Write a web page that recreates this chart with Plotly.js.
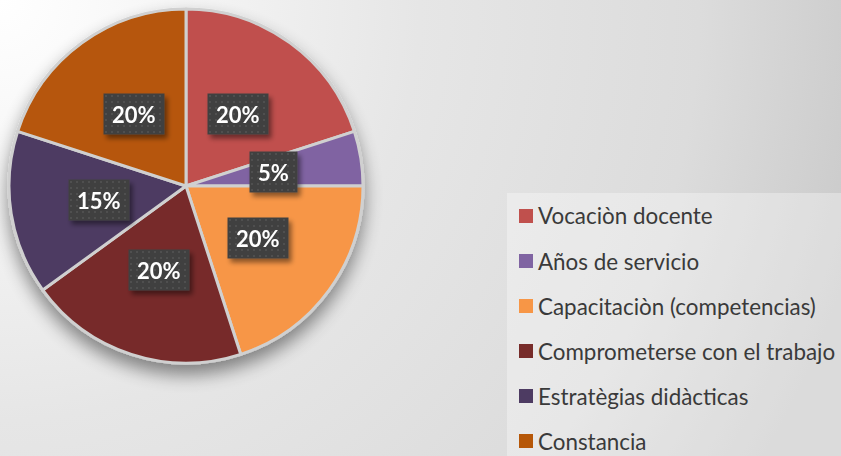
<!DOCTYPE html>
<html>
<head>
<meta charset="utf-8">
<script src="https://cdn.plot.ly/plotly-3.0.1.min.js"></script>
<style>
  html, body { margin: 0; padding: 0; }
  #chart {
    width: 841px; height: 456px;
    background: radial-gradient(circle at 0% 0%, #ffffff 0px, #f7f7f7 150px, #e6e6e6 420px, #dcdcdc 700px, #c9c9c9 900px);
  }
</style>
</head>
<body>
<div id="chart"></div>
<script>
// ---- data ----
const labels = ["Vocaciòn docente", "Años de servicio", "Capacitaciòn (competencias)",
                "Comprometerse con el trabajo", "Estratègias didàcticas", "Constancia"];
const values = [20, 5, 20, 20, 15, 20];
const percentText = ["20%", "5%", "20%", "20%", "15%", "20%"];
const colors = ["#C0504D", "#8064A2", "#F79646", "#772C2A", "#4D3B62", "#B65708"];

// ---- layout geometry ----
const W = 841, H = 456;
const cx = 186, cy = 186, R = 177;

const annotations = [];
const shapes = [];

// data labels placed at slice mid-angles (computed from values)
const total = values.reduce((a, b) => a + b, 0);
let cum = 0;
values.forEach((v, i) => {
  const mid = (cum + v / 2) / total * 2 * Math.PI;
  cum += v;
  const px = cx + 0.5 * R * Math.sin(mid);
  const py = cy - 0.5 * R * Math.cos(mid);
  annotations.push({
    xref: "paper", yref: "paper",
    x: px / W, y: 1 - py / H,
    xanchor: "center", yanchor: "middle",
    text: "<b>" + percentText[i] + "</b>",
    showarrow: false,
    font: { family: "Lato, 'Open Sans', sans-serif", size: 22, color: "#ffffff" },
    bgcolor: "#404040",
    borderpad: 8,
    height: 24
  });
});

// legend panel
shapes.push({
  type: "rect", xref: "paper", yref: "paper",
  x0: 507 / W, x1: 1, y0: 0, y1: 1 - 193 / H,
  fillcolor: "rgba(255,255,255,0.33)", line: { width: 0 }, layer: "below"
});
labels.forEach((lab, i) => {
  const yc = 216 + i * 45;
  shapes.push({
    type: "rect", xref: "paper", yref: "paper",
    x0: 519 / W, x1: 533 / W, y0: 1 - (yc + 7) / H, y1: 1 - (yc - 7) / H,
    fillcolor: colors[i], line: { width: 0 }
  });
  annotations.push({
    xref: "paper", yref: "paper",
    x: 536 / W, y: 1 - yc / H,
    xanchor: "left", yanchor: "middle",
    text: lab, showarrow: false,
    font: { family: "Lato, sans-serif", size: 22.4, color: "#3a3a3a" }
  });
});

const trace = {
  type: "pie",
  labels: labels,
  values: values,
  sort: false,
  direction: "clockwise",
  rotation: 0,
  textinfo: "none",
  hoverinfo: "label+percent",
  marker: { colors: colors, line: { color: "#D0D0D0", width: 3 } },
  domain: { x: [(cx - R) / W, (cx + R) / W], y: [1 - (cy + R) / H, 1 - (cy - R) / H] },
  showlegend: false
};

const layout = {
  width: W, height: H,
  margin: { l: 0, r: 0, t: 0, b: 0 },
  paper_bgcolor: "rgba(0,0,0,0)",
  plot_bgcolor: "rgba(0,0,0,0)",
  showlegend: false,
  annotations: annotations,
  shapes: shapes
};

Plotly.newPlot("chart", [trace], layout, { displayModeBar: false, staticPlot: true }).then(gd => {
  const NS = "http://www.w3.org/2000/svg";
  const svg = gd.querySelector("svg.main-svg");
  let defs = svg.querySelector("defs");
  if (!defs) { defs = document.createElementNS(NS, "defs"); svg.insertBefore(defs, svg.firstChild); }
  defs.insertAdjacentHTML("beforeend",
    '<filter id="pieShadow" filterUnits="userSpaceOnUse" x="-60" y="-60" width="560" height="520">' +
      '<feGaussianBlur in="SourceAlpha" stdDeviation="9"/>' +
      '<feOffset dx="0" dy="10" result="b"/>' +
      '<feComponentTransfer><feFuncA type="linear" slope="0.45"/></feComponentTransfer>' +
      '<feMerge><feMergeNode/><feMergeNode in="SourceGraphic"/></feMerge>' +
    '</filter>' +
    '<filter id="boxShadow" x="-30%" y="-30%" width="170%" height="180%">' +
      '<feGaussianBlur in="SourceAlpha" stdDeviation="2.5"/>' +
      '<feOffset dx="3" dy="4" result="b"/>' +
      '<feComponentTransfer><feFuncA type="linear" slope="0.45"/></feComponentTransfer>' +
      '<feMerge><feMergeNode/><feMergeNode in="SourceGraphic"/></feMerge>' +
    '</filter>' +
    '<pattern id="dots" patternUnits="userSpaceOnUse" width="6" height="6">' +
      '<rect width="6" height="6" fill="#404040"/>' +
      '<rect x="2" y="2" width="2" height="2" fill="#4f4f4f"/>' +
    '</pattern>');
  svg.querySelectorAll(".pielayer").forEach(pl => pl.setAttribute("filter", "url(#pieShadow)"));
  const anns = gd.querySelectorAll(".annotation");
  anns.forEach((a, i) => {
    if (i < values.length) {
      const r = a.querySelector("rect.bg");
      if (r) { r.style.fill = "url(#dots)"; }
      a.setAttribute("filter", "url(#boxShadow)");
    }
  });
});
</script>
</body>
</html>
